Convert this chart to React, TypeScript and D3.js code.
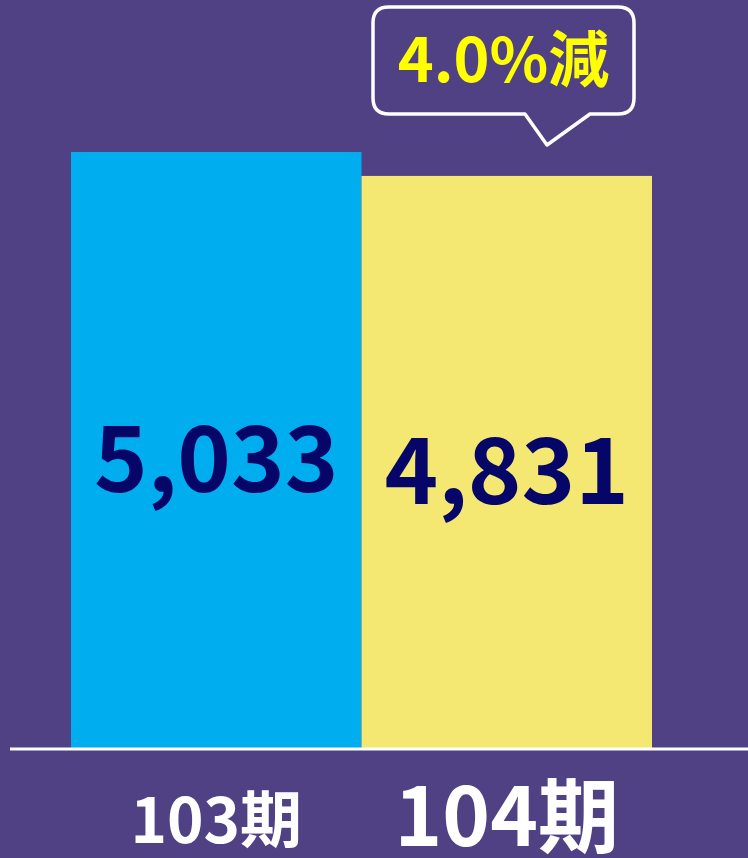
import React from "react";
import * as d3 from "d3";

const categories = ["103期", "104期"];
const values = [5033, 4831];
const changeLabel = "4.0%減";

const W = 748;
const H = 858;
const FONT = '"Noto Sans CJK JP", "Noto Sans", sans-serif';
const BG = "#4F4184";
const barColors = ["#00AEEF", "#F4E872"];
const catFontSizes = [62, 81];

const App = () => {
  const baseY = 748;

  // x: two bars side by side, no gap
  const xScale = d3.scaleBand().domain(categories).range([71, 652]).padding(0);

  // y: zero based so the bar tops line up
  const yScale = d3.scaleLinear().domain([0, d3.max(values)]).range([baseY, 152]);

  const fmt = d3.format(",");

  // callout box with a pointer on the bottom edge
  const box = { x0: 373, x1: 634, y0: 7, y1: 114, r: 16 };
  const tip = { x: 547, y: 145, l: 525, rgt: 590 };
  const calloutPath = [
    `M${box.x0 + box.r},${box.y0}`,
    `H${box.x1 - box.r}`,
    `Q${box.x1},${box.y0} ${box.x1},${box.y0 + box.r}`,
    `V${box.y1 - box.r}`,
    `Q${box.x1},${box.y1} ${box.x1 - box.r},${box.y1}`,
    `H${tip.rgt}`,
    `L${tip.x},${tip.y}`,
    `L${tip.l},${box.y1}`,
    `H${box.x0 + box.r}`,
    `Q${box.x0},${box.y1} ${box.x0},${box.y1 - box.r}`,
    `V${box.y0 + box.r}`,
    `Q${box.x0},${box.y0} ${box.x0 + box.r},${box.y0}`,
    "Z",
  ].join(" ");

  return (
    <svg
      width={W}
      height={H}
      style={{ position: "absolute", left: 0, top: 0, display: "block" }}
      fontFamily={FONT}
    >
      <rect width={W} height={H} fill={BG} />

      {categories.map((c, i) => (
        <rect
          key={c}
          x={xScale(c)}
          y={yScale(values[i])}
          width={xScale.bandwidth()}
          height={baseY - yScale(values[i])}
          fill={barColors[i]}
        />
      ))}

      {/* value labels, centred in each bar */}
      {categories.map((c, i) => (
        <text
          key={c + "v"}
          x={(xScale(c) as number) + xScale.bandwidth() / 2}
          y={(yScale(values[i]) + baseY) / 2 + 42}
          textAnchor="middle"
          fontSize={91}
          fontWeight="bold"
          fill="#060668"
        >
          {fmt(values[i])}
        </text>
      ))}

      {/* baseline */}
      <line x1={10} x2={W} y1={baseY + 1} y2={baseY + 1} stroke="#fff" strokeWidth={3} />

      {/* category labels */}
      {categories.map((c, i) => (
        <text
          key={c + "c"}
          x={(xScale(c) as number) + xScale.bandwidth() / 2}
          y={i === 0 ? 843 : 846}
          textAnchor="middle"
          fontSize={catFontSizes[i]}
          fontWeight={600}
          fill="#fff"
        >
          {c}
        </text>
      ))}

      <path d={calloutPath} fill="none" stroke="#fff" strokeWidth={3.5} strokeLinejoin="round" />
      <text
        x={(box.x0 + box.x1) / 2}
        y={82}
        textAnchor="middle"
        fontSize={61}
        fontWeight={600}
        fill="#FFFF00"
      >
        {changeLabel}
      </text>
    </svg>
  );
};

export default App;
